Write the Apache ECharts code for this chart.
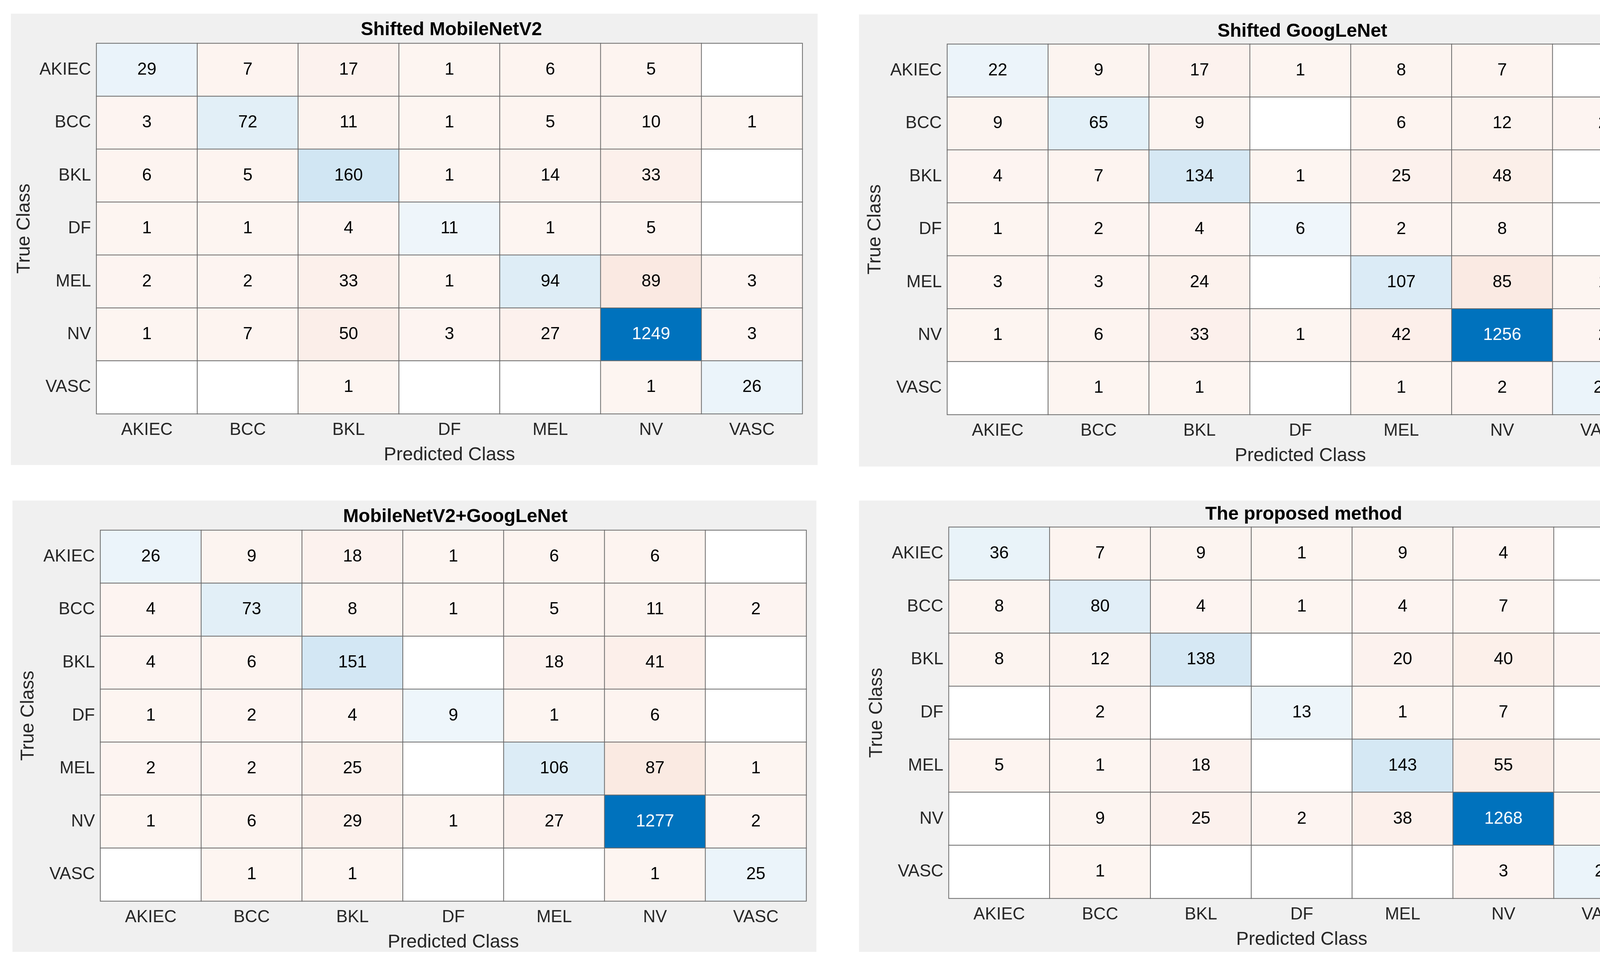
<!DOCTYPE html>
<html><head><meta charset="utf-8">
<script src="https://cdn.jsdelivr.net/npm/echarts@6/dist/echarts.min.js"></script>
<style>html,body{margin:0;padding:0;background:#fff}#c{width:4303px;height:2467px}</style>
</head><body><div id="c"></div><script>
// ---- data ----
const classes = ['AKIEC', 'BCC', 'BKL', 'DF', 'MEL', 'NV', 'VASC'];
const xAxisTitle = 'Predicted Class';
const yAxisTitle = 'True Class';
const chartTitles = ['Shifted MobileNetV2', 'Shifted GoogLeNet', 'MobileNetV2+GoogLeNet', 'The proposed method'];
// rows = true class, columns = predicted class (0 = empty cell)
const shiftedMobileNetV2 = [
  [29, 7, 17, 1, 6, 5, 0],
  [3, 72, 11, 1, 5, 10, 1],
  [6, 5, 160, 1, 14, 33, 0],
  [1, 1, 4, 11, 1, 5, 0],
  [2, 2, 33, 1, 94, 89, 3],
  [1, 7, 50, 3, 27, 1249, 3],
  [0, 0, 1, 0, 0, 1, 26]
];
const shiftedGoogLeNet = [
  [22, 9, 17, 1, 8, 7, 0],
  [9, 65, 9, 0, 6, 12, 2],
  [4, 7, 134, 1, 25, 48, 0],
  [1, 2, 4, 6, 2, 8, 0],
  [3, 3, 24, 0, 107, 85, 1],
  [1, 6, 33, 1, 42, 1256, 2],
  [0, 1, 1, 0, 1, 2, 23]
];
const mobileNetV2GoogLeNet = [
  [26, 9, 18, 1, 6, 6, 0],
  [4, 73, 8, 1, 5, 11, 2],
  [4, 6, 151, 0, 18, 41, 0],
  [1, 2, 4, 9, 1, 6, 0],
  [2, 2, 25, 0, 106, 87, 1],
  [1, 6, 29, 1, 27, 1277, 2],
  [0, 1, 1, 0, 0, 1, 25]
];
const proposedMethod = [
  [36, 7, 9, 1, 9, 4, 0],
  [8, 80, 4, 1, 4, 7, 0],
  [8, 12, 138, 0, 20, 40, 2],
  [0, 2, 0, 13, 1, 7, 0],
  [5, 1, 18, 0, 143, 55, 1],
  [0, 9, 25, 2, 38, 1268, 1],
  [0, 1, 0, 0, 0, 3, 24]
];
const matrices = [shiftedMobileNetV2, shiftedGoogLeNet, mobileNetV2GoogLeNet, proposedMethod];

// ---- layout / style ----
const panels = [
  {bg: [28, 35, 2065, 1155], grid: [247, 111, 1807, 948], titleTop: 48},
  {bg: [2199, 37, 2063, 1157], grid: [2425, 113, 1808, 948], titleTop: 52},
  {bg: [32, 1281, 2058, 1155], grid: [257, 1357, 1807, 949], titleTop: 1294},
  {bg: [2199, 1281, 2059, 1155], grid: [2429, 1349, 1807, 950], titleTop: 1288}
];
const FONT = 'Liberation Sans, Arial, Helvetica, sans-serif';
const diagBase = [0, 114, 189];
const offBase = [217, 83, 25];
function cellColor(v, max, diag) {
  if (!v) return '#ffffff';
  const t = 0.06 + 0.94 * v / max;
  const b = diag ? diagBase : offBase;
  const c = b.map(ch => Math.round(255 - t * (255 - ch)));
  return 'rgb(' + c.join(',') + ')';
}
function textColor(v, max) {
  return (0.06 + 0.94 * v / max) > 0.55 ? '#ffffff' : '#000000';
}

const grids = [], xAxes = [], yAxes = [], series = [], titles = [], graphics = [];
panels.forEach((p, i) => {
  graphics.push({type: 'rect', z: -10, silent: true,
    shape: {x: p.bg[0], y: p.bg[1], width: p.bg[2], height: p.bg[3]},
    style: {fill: '#f0f0f0'}});
  grids.push({left: p.grid[0], top: p.grid[1], width: p.grid[2], height: p.grid[3], containLabel: false});
  titles.push({text: chartTitles[i], left: p.grid[0] + p.grid[2] / 2, top: p.titleTop, textAlign: 'center',
    textStyle: {fontFamily: FONT, fontWeight: 'bold', fontSize: 48, color: '#000'}});
  xAxes.push({type: 'category', gridIndex: i, data: classes, position: 'bottom',
    axisLine: {show: false}, axisTick: {show: false}, splitLine: {show: false},
    axisLabel: {fontFamily: FONT, fontSize: 44, color: '#262626', margin: 20, interval: 0},
    name: xAxisTitle, nameLocation: 'middle', nameGap: 82,
    nameTextStyle: {fontFamily: FONT, fontSize: 48, color: '#262626'}});
  yAxes.push({type: 'category', gridIndex: i, data: classes, inverse: true,
    axisLine: {show: false}, axisTick: {show: false}, splitLine: {show: false},
    axisLabel: {fontFamily: FONT, fontSize: 44, color: '#262626', margin: 14, interval: 0},
    name: yAxisTitle, nameLocation: 'middle', nameGap: 160,
    nameTextStyle: {fontFamily: FONT, fontSize: 48, color: '#262626'}});
  const m = matrices[i];
  const max = Math.max(...m.flat());
  const data = [];
  m.forEach((row, r) => row.forEach((v, c) => {
    data.push({value: [c, r, v],
      itemStyle: {color: cellColor(v, max, r === c)},
      label: {color: textColor(v, max)}});
  }));
  series.push({type: 'heatmap', xAxisIndex: i, yAxisIndex: i, data: data,
    itemStyle: {borderColor: '#6a6a6a', borderWidth: 2},
    label: {show: true, fontFamily: FONT, fontSize: 44,
      formatter: p => p.value[2] ? String(p.value[2]) : ''},
    emphasis: {disabled: true}, animation: false});
});

const chart = echarts.init(document.getElementById('c'), null, {renderer: 'canvas'});
chart.setOption({
  backgroundColor: '#ffffff',
  animation: false,
  title: titles,
  grid: grids,
  xAxis: xAxes,
  yAxis: yAxes,
  graphic: graphics,
  series: series
});
</script></body></html>
